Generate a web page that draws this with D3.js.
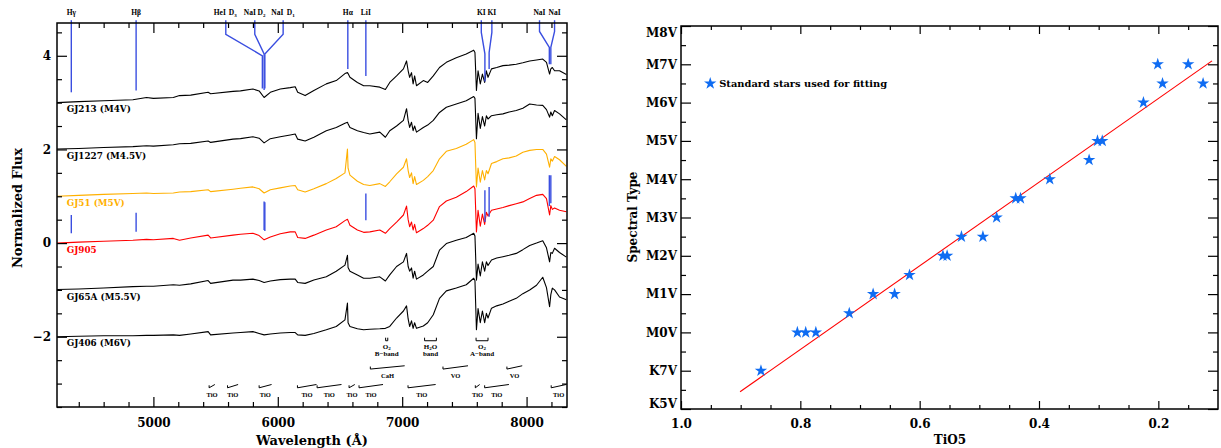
<!DOCTYPE html>
<html>
<head>
<meta charset="utf-8">
<script src="https://cdn.jsdelivr.net/npm/d3@7"></script>
<style>
  body { margin: 0; background: #fff; }
  svg text { font-family: "DejaVu Serif", serif; font-weight: bold; }
  svg text.small { font-family: "Liberation Serif", serif; }
  .tk text { font-size: 12px; fill: #000; }
  .tk line { stroke: #000; stroke-width: 1.2; }
  .tk path.domain { display: none; }
</style>
</head>
<body>
<svg id="chart" width="1221" height="448"></svg>
<script>
// ---------------- data: left panel (spectra) ----------------
const wave = [4225,4400,4600,4835,4945,5000,5160,5210,5300,5440,
  5460,5640,5700,5800,5850,5890,5940,6020,6100,6140,
  6160,6220,6290,6390,6470,6540,6560,6565,6580,6640,
  6690,6740,6820,6865,6900,6955,7010,7035,7048,7060,
  7075,7088,7100,7115,7170,7205,7250,7300,7355,7435,
  7515,7575,7585,7597,7610,7628,7645,7663,7677,7690,
  7718,7760,7810,7860,7917,7970,8025,8080,8130,8160,
  8185,8195,8207,8225,8265,8320];

// flux relative to each star's offset
const fluxGJ213 = [0.00,0.02,0.04,0.06,0.11,0.09,0.11,0.15,0.16,0.22,
  0.19,0.24,0.25,0.29,0.25,0.11,0.22,0.29,0.32,0.34,
  0.22,0.15,0.26,0.40,0.47,0.62,0.64,0.62,0.54,0.43,
  0.36,0.36,0.33,0.28,0.43,0.57,0.72,0.89,0.68,0.54,
  0.64,0.40,0.57,0.36,0.47,0.43,0.57,0.75,0.86,0.96,
  1.04,1.12,1.07,0.26,0.68,0.40,0.61,0.43,0.68,0.54,
  0.72,0.75,0.79,0.80,0.82,0.85,0.89,0.91,0.93,0.86,
  0.61,0.72,0.75,0.68,0.68,0.60];
const fluxGJ1227 = [0.01,0.02,0.04,0.06,0.08,0.07,0.10,0.12,0.13,0.18,
  0.15,0.22,0.23,0.27,0.24,0.14,0.23,0.27,0.31,0.33,
  0.22,0.18,0.26,0.40,0.47,0.56,0.58,0.55,0.47,0.40,
  0.36,0.33,0.37,0.26,0.40,0.50,0.62,0.87,0.62,0.47,
  0.58,0.40,0.50,0.37,0.47,0.52,0.62,0.79,0.90,0.97,
  1.04,1.13,1.09,0.23,0.77,0.45,0.70,0.50,0.72,0.65,
  0.72,0.74,0.76,0.80,0.83,0.88,0.97,0.95,0.94,0.85,
  0.69,0.80,0.72,0.83,0.76,0.63];
const fluxGJ51 = [0.00,0.02,0.04,0.06,0.07,0.06,0.07,0.09,0.10,0.14,
  0.10,0.15,0.17,0.20,0.16,0.07,0.14,0.18,0.22,0.23,
  0.14,0.09,0.16,0.27,0.38,0.50,1.01,0.60,0.45,0.32,
  0.25,0.23,0.27,0.21,0.31,0.48,0.62,0.80,0.55,0.40,
  0.50,0.27,0.42,0.25,0.34,0.42,0.55,0.80,0.96,1.02,
  1.11,1.21,1.15,0.20,0.60,0.30,0.55,0.35,0.55,0.48,
  0.70,0.74,0.80,0.82,0.86,0.94,0.98,1.00,1.00,0.90,
  0.62,0.80,0.75,0.85,0.78,0.64];
const fluxGJ905 = [0.00,0.02,0.04,0.06,0.08,0.07,0.10,0.06,0.11,0.17,
  0.11,0.17,0.19,0.21,0.16,0.07,0.13,0.20,0.24,0.24,
  0.12,0.10,0.17,0.28,0.35,0.48,0.51,0.48,0.38,0.28,
  0.23,0.24,0.28,0.21,0.31,0.45,0.60,0.79,0.50,0.35,
  0.45,0.28,0.40,0.22,0.31,0.38,0.49,0.78,0.90,0.98,
  1.10,1.22,1.16,0.24,0.70,0.36,0.62,0.40,0.66,0.58,
  0.70,0.73,0.76,0.80,0.84,0.88,0.95,1.02,1.04,0.95,
  0.60,0.80,0.72,0.75,0.70,0.67];
const fluxGJ65A = [0.01,0.02,0.04,0.07,0.08,0.08,0.11,0.10,0.13,0.20,
  0.14,0.21,0.21,0.23,0.20,0.16,0.19,0.22,0.23,0.23,
  0.16,0.14,0.21,0.28,0.40,0.53,0.74,0.48,0.40,0.32,
  0.25,0.25,0.28,0.19,0.32,0.50,0.60,0.78,0.50,0.40,
  0.47,0.25,0.40,0.23,0.32,0.40,0.50,0.85,0.99,1.06,
  1.12,1.21,1.15,0.21,0.55,0.30,0.60,0.40,0.60,0.52,
  0.64,0.68,0.71,0.74,0.78,0.86,0.95,1.00,1.05,0.90,
  0.60,0.80,0.78,0.89,0.80,0.70];
const fluxGJ406 = [0.00,0.01,0.02,0.02,0.03,0.03,0.04,0.03,0.06,0.11,
  0.04,0.08,0.09,0.11,0.07,0.04,0.06,0.08,0.09,0.09,
  0.04,0.03,0.07,0.15,0.22,0.36,0.72,0.30,0.22,0.17,
  0.15,0.16,0.17,0.18,0.22,0.40,0.55,0.66,0.38,0.22,
  0.34,0.18,0.30,0.18,0.23,0.30,0.47,0.82,0.98,1.04,
  1.11,1.25,1.20,0.15,0.60,0.30,0.55,0.30,0.50,0.40,
  0.61,0.66,0.70,0.76,0.82,0.92,1.00,1.10,1.27,1.05,
  0.64,0.90,1.04,1.00,0.85,0.79];

const spectra = [fluxGJ213, fluxGJ1227, fluxGJ51, fluxGJ905, fluxGJ65A, fluxGJ406];
const offsets = [3, 2, 1, 0, -1, -2];
const starNames = ["GJ213 (M4V)", "GJ1227 (M4.5V)", "GJ51 (M5V)", "GJ905", "GJ65A (M5.5V)", "GJ406 (M6V)"];
const starColors = ["#000", "#000", "#ffb000", "#ff0000", "#000", "#000"];

// line identifications (top)
const idTop = 4.76;
const straightWave = [4340, 4861, 6563, 6708];
const straightBottom = [3.22, 3.26, 3.72, 3.57];
// bent: label wave, line wave, knee1, knee2, bottom
const bentLabelWave = [5582, 5815, 6043, 7636, 7721, 8104, 8225];
const bentLineWave  = [5876, 5890, 5896, 7665, 7699, 8183, 8195];
const bentKnee1 = [4.46, 4.46, 4.46, 4.50, 4.50, 4.52, 4.52];
const bentKnee2 = [4.00, 4.04, 4.04, 4.04, 4.07, 4.18, 4.18];
const bentBottom = [3.30, 3.27, 3.30, 3.45, 3.72, 3.82, 3.82];
const topLabels = ["Hγ","Hβ","HeI","D3","NaI","D2","NaI","D1","Hα","LiI","KI","KI","NaI","NaI"];
const topLabelWave = [4340,4861,5534,5638,5775,5869,5996,6104,6563,6708,7636,7721,8104,8225];

// short markers near GJ905
const lowWave = [4340, 4861, 5890, 5896, 6708, 7665, 7699, 8183, 8195];
const lowTop = [0.60, 0.65, 0.89, 0.87, 1.06, 1.13, 1.20, 1.45, 1.45];
const lowBottom = [0.21, 0.24, 0.28, 0.26, 0.49, 0.45, 0.56, 0.79, 0.85];

// telluric bands: [main, subscript, rest]
const tellName = [["O", "2", ""], ["H", "2", "O"], ["O", "2", ""]];
const tellSub = ["B−band", "band", "A−band"];
const tellStart = [6867, 7180, 7594];
const tellEnd = [6884, 7275, 7690];

// molecular band heads
const molName = ["TiO","TiO","TiO","TiO","TiO","TiO","TiO","TiO","TiO","TiO","TiO","CaH","VO","VO"];
const molStart = [5448,5596,5850,6158,6316,6573,6653,7047,7588,7663,8198,6744,7328,7842];
const molEnd   = [5494,5681,5950,6311,6512,6619,6846,7269,7623,7858,8318,7020,7529,7965];
const molRow   = [-3.09,-3.09,-3.09,-3.09,-3.09,-3.09,-3.09,-3.09,-3.09,-3.09,-3.09,-2.69,-2.69,-2.69];

// ---------------- data: right panel ----------------
const sptLabels = ["K5V","K7V","M0V","M1V","M2V","M3V","M4V","M5V","M6V","M7V","M8V"];
const tio5 = [0.866,0.805,0.791,0.774,0.718,0.678,0.642,0.617,0.561,0.554,0.530,0.494,
  0.471,0.439,0.431,0.382,0.316,0.302,0.294,0.225,0.201,0.193,0.150,0.125];
const spt = [1,2,2,2,2.5,3,3,3.5,4,4,4.5,4.5,5,5.5,5.5,6,6.5,7,7,8,9,8.5,9,8.5];
const fitTio5 = [0.901, 0.110];
const fitSpt = [0.45, 9.09];

// ---------------- drawing ----------------
const svg = d3.select("#chart");
const blue = "#3a4ee0";

function frame(xs, ys, xMajor, xMinor, yMajor, yMinor, xLen, yLen, xFmt, yFmt, xPad, yPad) {
  const [x0, x1] = xs.range(), [y0, y1] = ys.range();
  const add = (t, ax) => svg.append("g").attr("class", "tk").attr("transform", t).call(ax);
  add(`translate(0,${y0})`, d3.axisBottom(xs).tickValues(xMajor).tickSizeInner(-xLen[0]).tickSizeOuter(0).tickPadding(xPad).tickFormat(xFmt));
  add(`translate(0,${y0})`, d3.axisBottom(xs).tickValues(xMinor).tickSizeInner(-xLen[1]).tickSizeOuter(0).tickFormat(""));
  add(`translate(0,${y1})`, d3.axisTop(xs).tickValues(xMajor).tickSizeInner(-xLen[0]).tickSizeOuter(0).tickFormat(""));
  add(`translate(0,${y1})`, d3.axisTop(xs).tickValues(xMinor).tickSizeInner(-xLen[1]).tickSizeOuter(0).tickFormat(""));
  const yl = add(`translate(${x0},0)`, d3.axisLeft(ys).tickValues(yMajor).tickSizeInner(-yLen[0]).tickSizeOuter(0).tickPadding(yPad).tickFormat(yFmt));
  add(`translate(${x0},0)`, d3.axisLeft(ys).tickValues(yMinor).tickSizeInner(-yLen[1]).tickSizeOuter(0).tickFormat(""));
  add(`translate(${x1},0)`, d3.axisRight(ys).tickValues(yMajor).tickSizeInner(-yLen[0]).tickSizeOuter(0).tickFormat(""));
  add(`translate(${x1},0)`, d3.axisRight(ys).tickValues(yMinor).tickSizeInner(-yLen[1]).tickSizeOuter(0).tickFormat(""));
  svg.append("rect").attr("x", x0).attr("y", y1).attr("width", x1 - x0).attr("height", y0 - y1)
    .attr("fill", "none").attr("stroke", "#000").attr("stroke-width", 1.5);
  return yl;
}

// ===== left panel =====
const xL = d3.scaleLinear().domain([4225, 8325]).range([57, 567]);
const yL = d3.scaleLinear().domain([-3.5, 4.7]).range([407, 23]);

svg.append("clipPath").attr("id", "clipL").append("rect")
  .attr("x", 57).attr("y", 23).attr("width", 510).attr("height", 384);

const specG = svg.append("g").attr("clip-path", "url(#clipL)");
spectra.forEach((flux, i) => {
  const line = d3.line().x((d, j) => xL(wave[j])).y(d => yL(d + offsets[i]));
  specG.append("path").datum(flux).attr("d", line)
    .attr("fill", "none").attr("stroke", starColors[i])
    .attr("stroke-width", 1.1).attr("stroke-linejoin", "round");
  svg.append("text").attr("x", xL(4303)).attr("y", yL(offsets[i] - 0.14))
    .attr("dy", "0.35em").attr("font-size", 8.8).attr("fill", starColors[i])
    .text(starNames[i]);
});

// line ids
const idG = svg.append("g").attr("stroke", blue).attr("stroke-width", 1.4).attr("fill", "none");
straightWave.forEach((w, i) => {
  idG.append("line").attr("x1", xL(w)).attr("x2", xL(w)).attr("y1", yL(idTop)).attr("y2", yL(straightBottom[i]));
});
bentLineWave.forEach((w, i) => {
  const pts = [[bentLabelWave[i], idTop], [bentLabelWave[i], bentKnee1[i]], [w, bentKnee2[i]], [w, bentBottom[i]]];
  idG.append("path").attr("d", d3.line().x(p => xL(p[0])).y(p => yL(p[1]))(pts));
});
lowWave.forEach((w, i) => {
  idG.append("line").attr("x1", xL(w)).attr("x2", xL(w)).attr("y1", yL(lowTop[i])).attr("y2", yL(lowBottom[i]));
});
topLabels.forEach((t, i) => {
  const tx = svg.append("text").attr("class", "small").attr("x", xL(topLabelWave[i])).attr("y", yL(4.93))
    .attr("dy", "0.35em").attr("text-anchor", "middle").attr("font-size", 7.5);
  if (t[0] === "D") {
    tx.append("tspan").text("D");
    tx.append("tspan").attr("font-size", 5).attr("dy", 2).text(t.slice(1));
  } else tx.text(t);
});

// telluric brackets
tellName.forEach((n, i) => {
  const a = xL(tellStart[i]), b = xL(tellEnd[i]), yb = yL(-2.085), yt = yL(-2.02);
  svg.append("path").attr("d", `M${a},${yt}V${yb}H${b}V${yt}`)
    .attr("fill", "none").attr("stroke", "#000").attr("stroke-width", 1);
  const cx = (a + b) / 2;
  const t1 = svg.append("text").attr("class", "small").attr("x", cx).attr("y", yL(-2.26))
    .attr("text-anchor", "middle").attr("font-size", 7);
  t1.append("tspan").text(n[0]);
  t1.append("tspan").attr("font-size", 5).attr("dy", 1.5).text(n[1]);
  if (n[2]) t1.append("tspan").attr("dy", -1.5).text(n[2]);
  svg.append("text").attr("class", "small").attr("x", cx).attr("y", yL(-2.41))
    .attr("text-anchor", "middle").attr("font-size", 7).text(tellSub[i]);
});

// molecular bands
molName.forEach((n, i) => {
  const a = xL(molStart[i]), b = xL(molEnd[i]), yb = yL(molRow[i]);
  svg.append("path").attr("d", `M${a},${yb - 2.5}V${yb}L${b},${yb - 3.3}`)
    .attr("fill", "none").attr("stroke", "#000").attr("stroke-width", 1);
  svg.append("text").attr("class", "small").attr("x", (a + b) / 2).attr("y", yL(molRow[i] - 0.14)).attr("dy", "0.35em")
    .attr("text-anchor", "middle").attr("font-size", 6.5).text(n);
});

frame(xL, yL, [5000, 6000, 7000, 8000], d3.range(4400, 8325, 200).filter(v => v % 1000 !== 0),
  [-2, 0, 2, 4], d3.range(-3.5, 4.6, 0.5).filter(v => v % 2 !== 0),
  [10, 5], [10, 5], d3.format("d"), d3.format("d"), 11, 6);

svg.append("text").attr("transform", "translate(17,208) rotate(-90)")
  .attr("text-anchor", "middle").attr("dy", "0.35em").attr("font-size", 13).text("Normalized Flux");
svg.append("text").attr("x", 312).attr("y", 440).attr("dy", "0.35em")
  .attr("text-anchor", "middle").attr("font-size", 13).text("Wavelength (Å)");

// ===== right panel =====
const xR = d3.scaleLinear().domain([1.0, 0.1]).range([681, 1218]);
const yR = d3.scaleLinear().domain([0, 10]).range([409, 26]);

svg.append("line").attr("x1", xR(fitTio5[0])).attr("y1", yR(fitSpt[0]))
  .attr("x2", xR(fitTio5[1])).attr("y2", yR(fitSpt[1]))
  .attr("stroke", "#ff0000").attr("stroke-width", 1.1);

const star = d3.symbol(d3.symbolStar, 48);
svg.append("g").selectAll("path").data(tio5).join("path")
  .attr("d", star).attr("fill", "#0f6cf2")
  .attr("transform", (d, i) => `translate(${xR(d)},${yR(spt[i])})`);

const yAxR = frame(xR, yR, [1.0, 0.8, 0.6, 0.4, 0.2],
  d3.range(0.95, 0.1, -0.05).map(v => +v.toFixed(2)).filter(v => Math.round(v * 100) % 20 !== 0),
  d3.range(0, 11), d3.range(0.5, 10, 1),
  [8, 4], [10, 5], d3.format(".1f"), i => sptLabels[i], 10, 4);
yAxR.selectAll(".tick text").attr("dy", d => d === 10 ? "0.85em" : d === 0 ? "-0.15em" : "0.32em");

// legend
svg.append("path").attr("d", star).attr("fill", "#0f6cf2")
  .attr("transform", `translate(${xR(0.951)},${yR(8.5)})`);
svg.append("text").attr("x", xR(0.951) + 9).attr("y", yR(8.5)).attr("dy", "0.35em")
  .attr("font-size", 9.9).text("Standard stars used for fitting");

svg.append("text").attr("transform", "translate(633,217) rotate(-90)")
  .attr("text-anchor", "middle").attr("dy", "0.35em").attr("font-size", 12).text("Spectral Type");
svg.append("text").attr("x", 950).attr("y", 440).attr("dy", "0.35em")
  .attr("text-anchor", "middle").attr("font-size", 12).text("TiO5");
</script>
</body>
</html>
